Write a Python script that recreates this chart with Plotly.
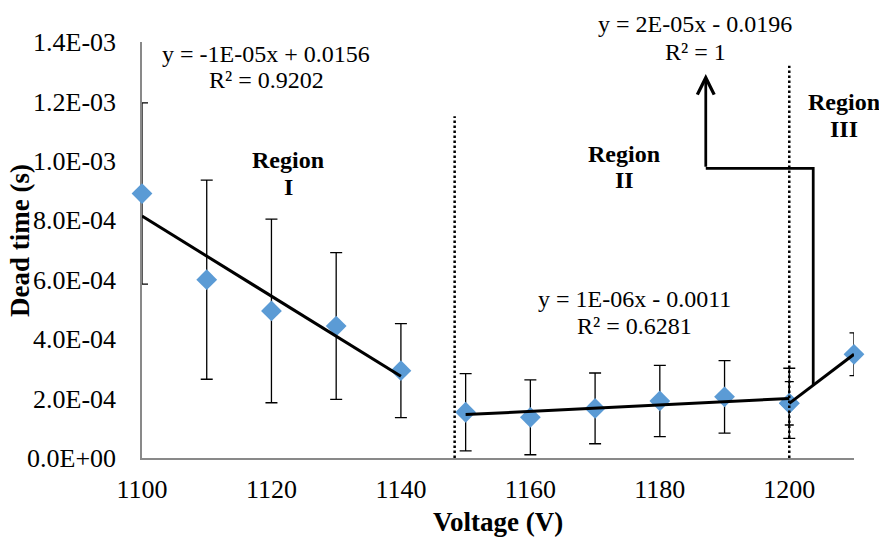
import numpy as np
import plotly.graph_objects as go

# Region I measurements
volt_1 = [1100, 1110, 1120, 1130, 1140]
dead_1 = [8.9e-4, 6.0e-4, 4.95e-4, 4.44e-4, 2.94e-4]
err_1 = [3.05e-4, 3.35e-4, 3.09e-4, 2.47e-4, 1.58e-4]

# Region II measurements
volt_2 = [1150, 1160, 1170, 1180, 1190, 1200]
dead_2 = [1.54e-4, 1.37e-4, 1.67e-4, 1.92e-4, 2.06e-4, 1.84e-4]
err_2 = [1.30e-4, 1.26e-4, 1.19e-4, 1.20e-4, 1.22e-4, 1.18e-4]

# Region III measurements
volt_3 = [1200, 1210]
dead_3 = [1.84e-4, 3.49e-4]
err_3 = [7.3e-5, 7.2e-5]

# Axis ticks
x_ticks = [1100, 1120, 1140, 1160, 1180, 1200]
y_ticks = [0.0, 2e-4, 4e-4, 6e-4, 8e-4, 1.0e-3, 1.2e-3, 1.4e-3]
y_tick_text = [f"{v:.1E}" for v in y_ticks]

# Trendline labels
eq_1 = ["y = -1E-05x + 0.0156", "R² = 0.9202"]
eq_2 = ["y = 1E-06x - 0.0011", "R² = 0.6281"]
eq_3 = ["y = 2E-05x - 0.0196", "R² = 1"]

FONT = "Liberation Serif"
MARKER_BLUE = "#5B9BD5"
W, H = 879, 542
ML, MR, MT, MB = 142, 25, 42, 84
PW, PH = W - ML - MR, H - MT - MB


def px(x):
    return (x - ML) / PW


def py(y):
    return (H - MB - y) / PH


fig = go.Figure()

# Measured points with error bars
for v, d, e, cap in [(volt_1, dead_1, err_1, 6), (volt_2, dead_2, err_2, 6),
                     (volt_3, dead_3, err_3, 4.5)]:
    fig.add_trace(go.Scatter(
        x=v, y=d, mode="markers",
        marker=dict(symbol="diamond", size=16, color=MARKER_BLUE,
                    line=dict(width=0)),
        error_y=dict(type="data", array=e, visible=True, color="black",
                     thickness=1.3, width=cap),
        cliponaxis=False, hoverinfo="x+y",
    ))

# Linear trendlines fitted to each region
fits = []
for v, d in [(volt_1, dead_1), (volt_2, dead_2), (volt_3, dead_3)]:
    slope, icpt = np.polyfit(v, d, 1)
    fits.append((slope, icpt))
    xs = np.array([min(v), max(v)], dtype=float)
    fig.add_trace(go.Scatter(
        x=xs, y=slope * xs + icpt, mode="lines",
        line=dict(color="black", width=3), cliponaxis=False,
        hoverinfo="skip",
    ))

# Region boundaries
fig.add_shape(type="line", x0=1148.3, x1=1148.3, y0=0, y1=1.15e-3,
              line=dict(color="black", width=2.5, dash="2.5px,2.5px"))
fig.add_shape(type="line", x0=1200, x1=1200, y0=0, y1=1.32e-3,
              line=dict(color="black", width=2.5, dash="2.5px,2.5px"))

# Leader from the Region III trendline to its equation
lead_x0, lead_x1 = 1203.7, 1187.1
lead_ymid, lead_ytip = 9.75e-4, 1.292e-3
s3, b3 = fits[2]
fig.add_shape(
    type="path",
    path=f"M {lead_x0},{s3 * lead_x0 + b3} V {lead_ymid} H {lead_x1} V {lead_ymid}",
    line=dict(color="black", width=2.75),
)
fig.add_annotation(
    x=lead_x1, y=lead_ytip, ax=lead_x1, ay=lead_ymid, axref="x", ayref="y",
    xref="x", yref="y", text="", showarrow=True, arrowhead=5,
    arrowsize=1.2, arrowwidth=2.75, arrowcolor="black", standoff=0,
)


def add_lines(lines, cx, cy0, step, size=24, bold=False):
    for i, t in enumerate(lines):
        fig.add_annotation(
            x=px(cx), y=py(cy0 + i * step), xref="paper", yref="paper",
            text=f"<b>{t}</b>" if bold else t, showarrow=False,
            xanchor="center", yanchor="middle",
            font=dict(family=FONT, size=size, color="black"),
        )


add_lines(eq_1, 266, 54, 26)
add_lines(eq_2, 634, 299, 27)
add_lines(eq_3, 695, 24, 28)
add_lines(["Region", "I"], 288, 160, 27, bold=True)
add_lines(["Region", "II"], 624, 154, 26, bold=True)
add_lines(["Region", "III"], 844, 102, 27, bold=True)

# Axis titles
fig.add_annotation(
    x=px(20), y=py(241), xref="paper", yref="paper",
    text="<b>Dead time (s)</b>", textangle=-90, showarrow=False,
    xanchor="center", yanchor="middle",
    font=dict(family=FONT, size=27, color="black"),
)
fig.add_annotation(
    x=px(498), y=py(522), xref="paper", yref="paper",
    text="<b>Voltage (V)</b>", showarrow=False,
    xanchor="center", yanchor="middle",
    font=dict(family=FONT, size=27, color="black"),
)

fig.update_xaxes(
    range=[1100, 1210], tickvals=x_ticks, showgrid=False, zeroline=False,
    showline=True, linecolor="#898989", linewidth=1.5, ticks="",
    layer="below traces", tickfont=dict(family=FONT, size=26, color="black"),
    ticklabelstandoff=7,
)
fig.update_yaxes(
    range=[0, 1.4e-3], tickvals=y_ticks, ticktext=y_tick_text,
    showgrid=False, zeroline=False, showline=True, linecolor="#898989",
    linewidth=1.5, ticks="", layer="below traces",
    tickfont=dict(family=FONT, size=26, color="black"),
    ticklabelstandoff=19,
)
fig.update_layout(
    width=W, height=H, margin=dict(l=ML, r=MR, t=MT, b=MB),
    plot_bgcolor="white", paper_bgcolor="white", showlegend=False,
    font=dict(family=FONT, color="black"),
)

fig.write_html("out.html")
